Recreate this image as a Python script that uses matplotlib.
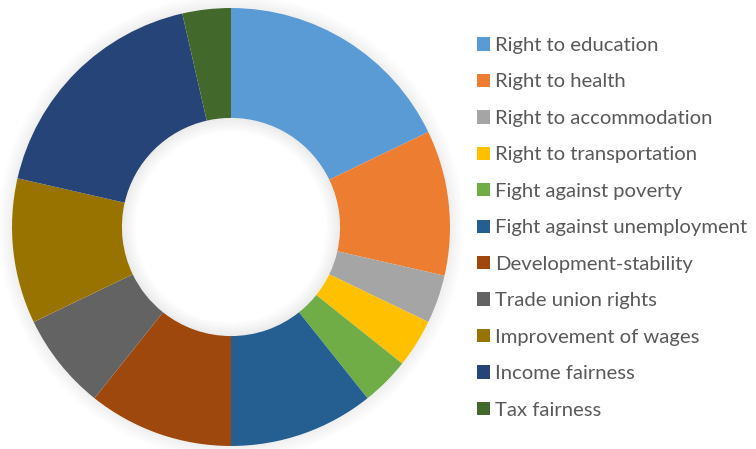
import matplotlib
matplotlib.use("Agg")
import matplotlib.pyplot as plt
from matplotlib.patches import Circle

# values (share of 28 units)
labels = ["Right to education", "Right to health", "Right to accommodation",
          "Right to transportation", "Fight against poverty",
          "Fight against unemployment", "Development-stability",
          "Trade union rights", "Improvement of wages", "Income fairness",
          "Tax fairness"]
values = [5, 3, 1, 1, 1, 3, 3, 2, 3, 5, 1]
colors = ["#5B9BD5", "#ED7D31", "#A5A5A5", "#FFC000", "#70AD47", "#255E91",
          "#9E480E", "#636363", "#997300", "#264478", "#43682B"]

W, H = 756, 449
fig = plt.figure(figsize=(W / 100, H / 100), dpi=100)
fig.patch.set_facecolor("white")

cx, cy, r = 231, 227, 219
ax = fig.add_axes([(cx - r) / W, (H - cy - r) / H, 2 * r / W, 2 * r / H])
px = 1.0 / r  # one pixel in data units

wedges, _ = ax.pie(values, colors=colors, startangle=90, counterclock=False,
                   radius=1.0, wedgeprops=dict(width=0.502, edgecolor="none"))

# soft shadows: thin rings that fade away from the ring edges
inner = 1 - 0.502
n = 14
for i in range(n):
    a = 0.07 * (1 - i / n)
    ax.add_patch(Circle((0, 0), 1.0 + (i + 0.5) * px, fill=False,
                        edgecolor="black", alpha=a * 0.8, lw=0.8, zorder=0,
                        clip_on=False))
    ax.add_patch(Circle((0, 0), inner - (i + 0.5) * px, fill=False,
                        edgecolor="black", alpha=a, lw=0.8, zorder=3))

ax.set_xlim(-1, 1)
ax.set_ylim(-1, 1)
ax.set_aspect("equal")
ax.axis("off")

plt.rcParams["font.family"] = ["Lato", "DejaVu Sans"]
leg = fig.legend(wedges, labels, loc="upper left",
                 bbox_to_anchor=(477 / W, 1 - 37 / H), frameon=False,
                 fontsize=14.6, handlelength=0.64, handleheight=0.64,
                 handletextpad=0.25, labelspacing=0.96, borderpad=0,
                 borderaxespad=0)
for t in leg.get_texts():
    t.set_color("#595959")

fig.savefig("out.png", dpi=100)
